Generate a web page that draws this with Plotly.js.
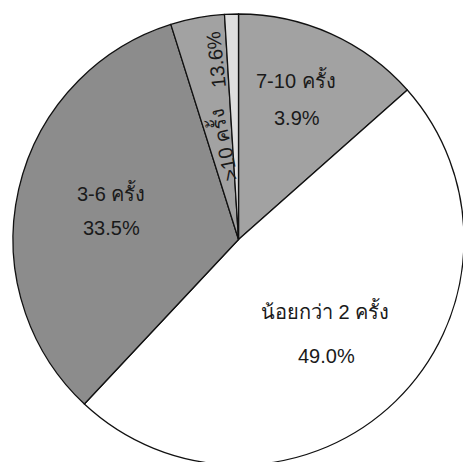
<!DOCTYPE html>
<html>
<head>
<meta charset="utf-8">
<script src="https://cdn.plot.ly/plotly-3.0.1.min.js"></script>
<style>
html,body{margin:0;padding:0;background:#fff;overflow:hidden;}
#chart{width:480px;height:480px;}
</style>
</head>
<body>
<div id="chart"></div>
<script>
// Slices, clockwise from 12 o'clock
const categories = ["7-10 ครั้ง", "น้อยกว่า 2 ครั้ง", "3-6 ครั้ง", ">10 ครั้ง", ""];
const values = [13.6, 49.0, 33.5, 3.9, 1.0];
// Percent texts as printed on the original chart
const pctLabels = ["3.9%", "49.0%", "33.5%", "13.6%", ""];
const sliceColors = ["#a2a2a2", "#ffffff", "#8c8c8c", "#a2a2a2", "#dedede"];

const FONT = "'Liberation Sans', Arial, 'Noto Sans', sans-serif";

const trace = {
  type: "pie",
  values: values,
  labels: categories.map((c, i) => c || "other" + i),
  sort: false,
  direction: "clockwise",
  rotation: 0,
  marker: {colors: sliceColors, line: {color: "#111111", width: 1.3}},
  textinfo: "none",
  hoverinfo: "skip",
  showlegend: false,
  domain: {x: [0.0271, 0.9667], y: [0.0313, 0.9708]}
};

// label placement (paper px -> paper fraction on a 480x480 layout)
const W = 480, H = 480;
const place = [
  {name: [296, 80], pct: [297, 118], angle: 0, pangle: 0},
  {name: [325, 310], pct: [326, 356], angle: 0, pangle: 0},
  {name: [111, 192], pct: [111, 228], angle: 0, pangle: 0},
  {name: [222, 146], pct: [216, 60], angle: -102, pangle: -96},
];
const annotations = [];
place.forEach((p, i) => {
  annotations.push({
    text: categories[i], x: p.name[0] / W, y: 1 - p.name[1] / H,
    xref: "paper", yref: "paper", xanchor: "center", yanchor: "middle",
    showarrow: false, textangle: p.angle,
    font: {family: FONT, size: 20, color: "#1a1a1a"}
  });
  annotations.push({
    text: pctLabels[i], x: p.pct[0] / W, y: 1 - p.pct[1] / H,
    xref: "paper", yref: "paper", xanchor: "center", yanchor: "middle",
    showarrow: false, textangle: p.pangle,
    font: {family: FONT, size: 20, color: "#1a1a1a"}
  });
});

Plotly.newPlot("chart", [trace], {
  width: W, height: H,
  margin: {l: 0, r: 0, t: 0, b: 0},
  paper_bgcolor: "#ffffff",
  annotations: annotations
}, {staticPlot: true});
</script>
</body>
</html>
